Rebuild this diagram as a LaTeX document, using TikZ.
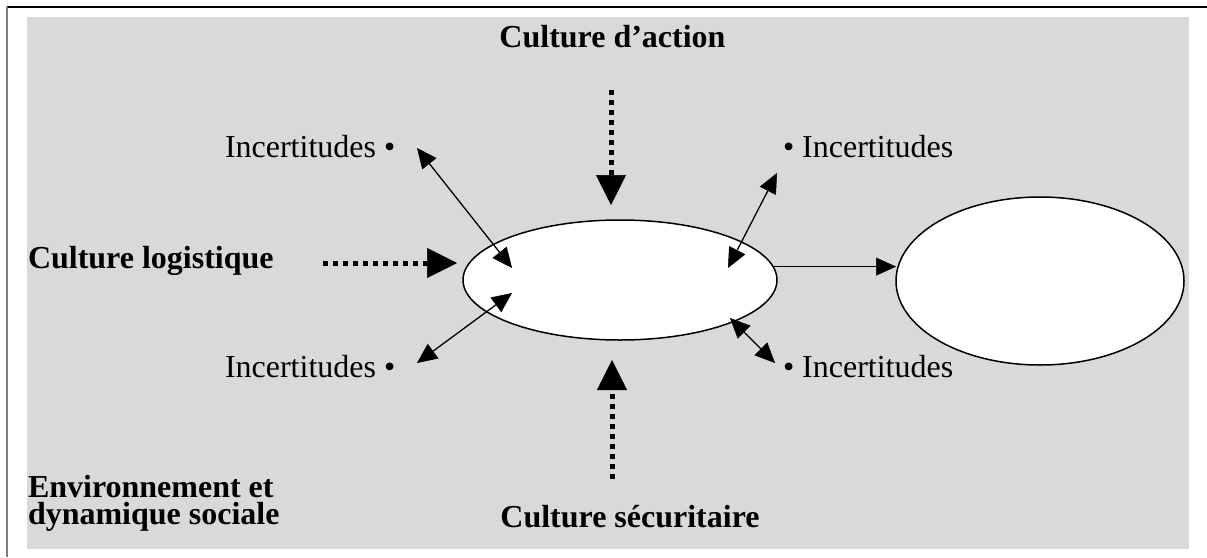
\documentclass[tikz,border=0pt]{standalone}
\usepackage{fontspec}
\setmainfont{Liberation Serif}
\usetikzlibrary{arrows.meta,shapes.geometric}
\definecolor{bggray}{HTML}{D9D9D9}
\definecolor{edgegray}{HTML}{808080}
\tikzset{
  lbl/.style={inner sep=0pt, outer sep=0pt, anchor=base west, font=\fontsize{32}{27}\selectfont},
  blbl/.style={lbl, font=\fontsize{32}{27}\selectfont\bfseries},
  ell/.style={ellipse, draw=black, fill=white, line width=1.5pt, inner sep=0pt, outer sep=0pt},
  thinhead/.tip={Triangle[length=20pt,width=18pt,line width=0.5pt]},
  bighead/.tip={Triangle[length=30pt,width=30pt,line width=0.5pt]},
  twoway/.style={line width=1.3pt, thinhead-thinhead},
  oneway/.style={line width=1.3pt, -thinhead},
  dotarrow/.style={line width=5pt, dash pattern=on 5pt off 5pt, -bighead}
}
\begin{document}
\begin{tikzpicture}[x=1pt,y=-1pt]
\useasboundingbox (0,0) rectangle (1207,557);
\fill[white] (0,0) rectangle (1207,557);
\fill[bggray] (27,17) rectangle (1189,549);
\draw[black, line width=1.5pt] (7,7) -- (1207,7);
\draw[edgegray, line width=2pt] (7,7) -- (7,557);

% ellipses
\node[ell, minimum width=314pt, minimum height=120pt] (c) at (620,280) {};
\node[ell, minimum width=288pt, minimum height=168pt] (r) at (1040,281) {};

% labels
\node[blbl, anchor=base] (act) at (612.5,47) {Culture d’action};
\node[blbl] (log) at (28,268) {Culture logistique};
\node[blbl, anchor=base] (sec) at (630,527) {Culture sécuritaire};
\node[blbl, align=left, anchor=base west] (env) at (28,524) {Environnement et\\dynamique sociale};
\node[lbl] (i1) at (225,157) {Incertitudes •};
\node[lbl] (i2) at (783,157) {• Incertitudes};
\node[lbl] (i3) at (225,377) {Incertitudes •};
\node[lbl] (i4) at (783,377) {• Incertitudes};

% arrow end points
\coordinate (ula) at (417,148);
\coordinate (ulb) at (512,268);
\coordinate (ura) at (777,173);
\coordinate (urb) at (728,268);
\coordinate (lla) at (512,293);
\coordinate (llb) at (417,363);
\coordinate (lra) at (730,318);
\coordinate (lrb) at (775,363);
\coordinate (ta) at (611,90);
\coordinate (tb) at (611,205);
\coordinate (la) at (323,263);
\coordinate (lb) at (457,263);
\coordinate (ba) at (612,479);
\coordinate (bb) at (612,360);

% connectors
\draw[twoway] (ula) -- (ulb);
\draw[twoway] (ura) -- (urb);
\draw[twoway] (lla) -- (llb);
\draw[twoway] (lra) -- (lrb);
\draw[dotarrow] (ta) -- (tb);
\draw[dotarrow] (la) -- (lb);
\draw[dotarrow] (ba) -- (bb);
\draw[oneway] (c.5) -- (c.5 -| r.west);
\end{tikzpicture}
\end{document}
